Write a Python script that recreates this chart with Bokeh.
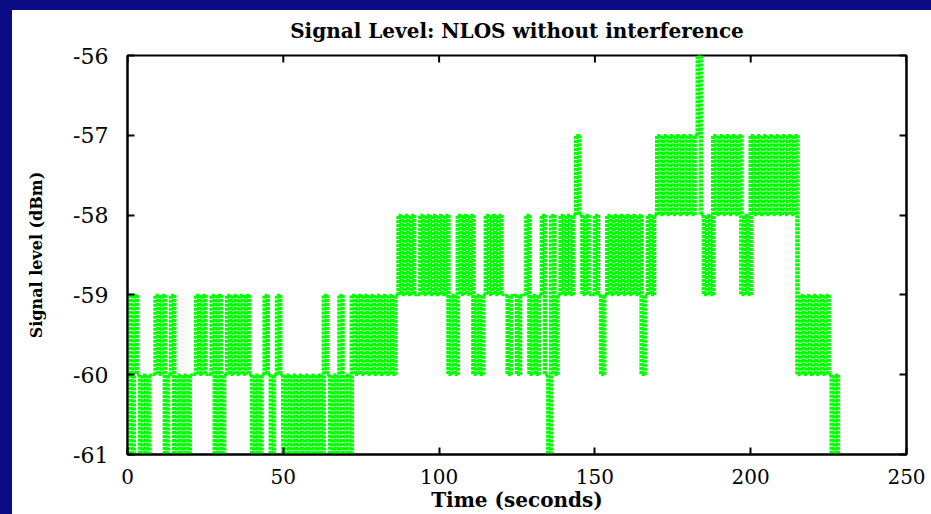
import numpy as np
from bokeh.plotting import figure
from bokeh.models import (LinearAxis, FixedTicker, Range1d,
                          GlobalInlineStyleSheet)
from bokeh.embed import file_html
from bokeh.resources import INLINE

# ---- data ----
time_s = list(range(229))
signal_dbm = [
    -59, -61, -59, -60, -61, -60, -61, -60, -60, -59,   # 0-9
    -60, -59, -61, -60, -59, -61, -60, -61, -60, -61,   # 10-19
    -60, -60, -59, -60, -59, -60, -60, -59, -61, -59,   # 20-29
    -61, -60, -59, -60, -59, -60, -59, -60, -59, -60,   # 30-39
    -61, -60, -61, -60, -59, -60, -61, -60, -59, -60,   # 40-49
    -61, -60, -61, -60, -61, -60, -61, -60, -61, -60,   # 50-59
    -61, -60, -61, -59, -60, -61, -60, -61, -59, -61,   # 60-69
    -60, -61, -59, -60, -59, -60, -59, -60, -59, -60,   # 70-79
    -59, -60, -59, -60, -59, -60, -59, -58, -59, -58,   # 80-89
    -59, -58, -59, -59, -58, -59, -58, -59, -58, -59,   # 90-99
    -58, -59, -58, -60, -59, -60, -58, -59, -58, -59,   # 100-109
    -58, -60, -59, -60, -59, -58, -59, -58, -59, -58,   # 110-119
    -59, -59, -60, -59, -59, -60, -59, -59, -58, -60,   # 120-129
    -59, -60, -59, -58, -60, -61, -58, -60, -59, -58,   # 130-139
    -59, -58, -59, -58, -57, -58, -59, -58, -59, -59,   # 140-149
    -58, -59, -60, -59, -58, -59, -58, -59, -58, -59,   # 150-159
    -58, -59, -58, -59, -58, -60, -59, -58, -59, -58,   # 160-169
    -57, -58, -57, -58, -57, -58, -57, -58, -57, -58,   # 170-179
    -57, -58, -57, -56, -58, -59, -58, -59, -57, -58,   # 180-189
    -57, -58, -57, -58, -57, -58, -57, -59, -58, -59,   # 190-199
    -57, -58, -57, -58, -57, -58, -57, -58, -57, -58,   # 200-209
    -57, -58, -57, -58, -57, -60, -59, -60, -59, -60,   # 210-219
    -59, -60, -59, -60, -59, -60, -61, -60, -61,        # 220-228
]
x_ticks = [0, 50, 100, 150, 200, 250]
y_ticks = [-61, -60, -59, -58, -57, -56]
y_tick_labels = ["-61", "-60", "-59", "-58", "-57", "-56"]
title_text = "Signal Level: NLOS without interference"

t = np.array(time_s, dtype=float)
v = np.array(signal_dbm, dtype=float)
chg = v[1:] != v[:-1]

SERIF = "DejaVu Serif"
GREEN = "#00ff00"
NAVY = "#0b0b84"

X0, X1 = 0, 250
Y0, Y1 = -61, -56
FRAME_H = 400
TICK = 7
PX_PER_Y = FRAME_H / (Y1 - Y0)

p = figure(width=931, height=514, output_backend="svg", toolbar_location=None,
           title=title_text,
           x_range=Range1d(X0, X1), y_range=Range1d(Y0, Y1),
           min_border_left=127, min_border_right=25,
           min_border_top=55, min_border_bottom=59,
           background_fill_color="white", border_fill_color="white")

# slide frame: navy band along the top and the left edge of the page
p.stylesheets = [GlobalInlineStyleSheet(css=(
    "html,body{margin:0;padding:0;overflow:hidden;background:#ffffff;}"
    "body::before{content:'';position:fixed;left:0;top:0;width:100%;"
    "height:10px;background:" + NAVY + ";z-index:1000;}"
    "body::after{content:'';position:fixed;left:0;top:0;width:12px;"
    "height:100%;background:" + NAVY + ";z-index:1000;}"))]

# step trace: horizontal runs and dashed vertical transitions
p.segment(x0=t[:-1], y0=v[:-1], x1=t[1:], y1=v[:-1],
          line_color=GREEN, line_width=2.5)
p.segment(x0=t[1:][chg], y0=v[:-1][chg], x1=t[1:][chg], y1=v[1:][chg],
          line_color=GREEN, line_width=4.5, line_dash="3 1")

# inward tick marks along the top edge (gnuplot box style)
xt = np.array(x_ticks, dtype=float)
p.segment(x0=xt, y0=np.full_like(xt, Y1), x1=xt,
          y1=np.full_like(xt, Y1 - TICK / PX_PER_Y),
          line_color="black", line_width=2)

p.grid.visible = False
p.outline_line_color = "black"
p.outline_line_width = 2

p.title.align = "center"
p.title.text_font = SERIF
p.title.text_font_style = "bold"
p.title.text_font_size = "20px"
p.title.text_color = "black"
p.title.standoff = 26

for ax in (p.xaxis[0], p.yaxis[0]):
    ax.axis_line_color = "black"
    ax.axis_line_width = 2
    ax.major_tick_in = TICK
    ax.major_tick_out = 0
    ax.major_tick_line_width = 2
    ax.minor_tick_line_color = None
    ax.major_label_text_font = SERIF
    ax.major_label_text_font_size = "20px"
    ax.major_label_text_color = "black"
    ax.axis_label_text_font = SERIF
    ax.axis_label_text_font_style = "bold"
    ax.axis_label_text_color = "black"

p.xaxis[0].ticker = FixedTicker(ticks=x_ticks)
p.yaxis[0].ticker = FixedTicker(ticks=y_ticks)
p.yaxis[0].major_label_overrides = dict(zip(y_ticks, y_tick_labels))
p.yaxis[0].major_label_text_font_size = "22px"
p.xaxis[0].axis_label = "Time (seconds)"
p.xaxis[0].axis_label_text_font_size = "20px"
p.xaxis[0].major_label_standoff = 14
p.xaxis[0].axis_label_standoff = 1
p.yaxis[0].axis_label = "Signal level (dBm)"
p.yaxis[0].axis_label_text_font_size = "16px"
p.yaxis[0].major_label_standoff = 19
p.yaxis[0].axis_label_standoff = 24

# mirrored inward ticks on the right edge, no labels
rax = LinearAxis(ticker=FixedTicker(ticks=y_ticks))
rax.axis_line_color = "black"
rax.axis_line_width = 2
rax.major_tick_in = TICK
rax.major_tick_out = 0
rax.major_tick_line_width = 2
rax.minor_tick_line_color = None
rax.major_label_text_color = None
rax.major_label_standoff = 0
p.add_layout(rax, "right")

open("out.html", "w").write(file_html(p, INLINE))
